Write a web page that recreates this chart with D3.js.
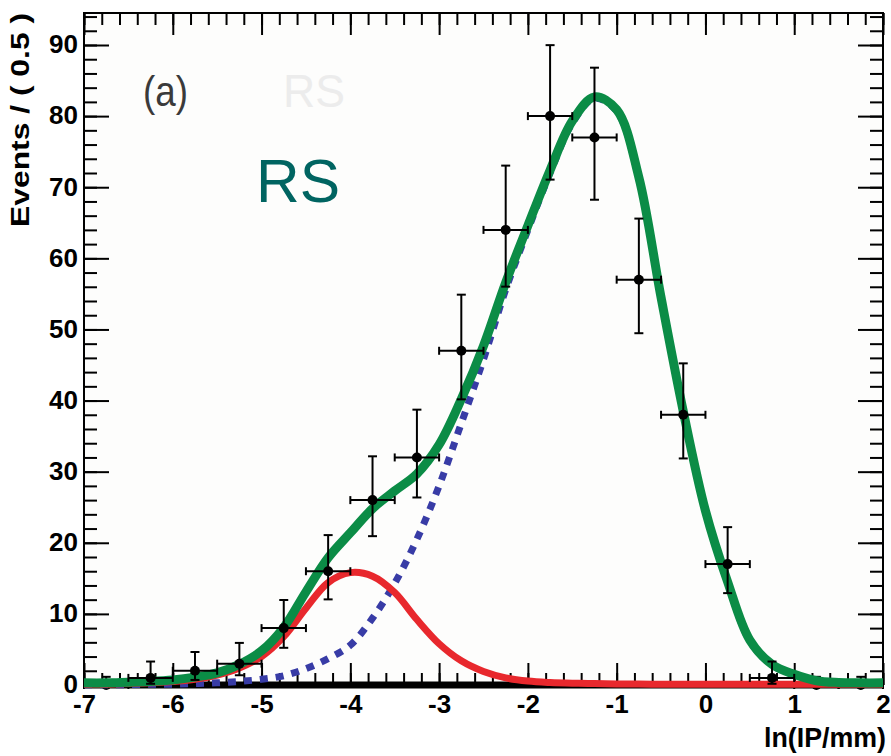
<!DOCTYPE html>
<html>
<head>
<meta charset="utf-8">
<script src="https://cdn.jsdelivr.net/npm/d3@7.9.0/dist/d3.min.js"></script>
<style>
  body { margin: 0; background: #fff; }
  svg { display: block; font-family: 'Liberation Sans', Arial, sans-serif; }
  .tick text { font-weight: bold; fill: #000; }
</style>
</head>
<body>
<svg id="chart" width="891" height="756"></svg>
<script>
// data points: bin centres, counts and asymmetric errors
const binCenters = [-6.75, -6.25, -5.75, -5.25, -4.75, -4.25, -3.75, -3.25, -2.75, -2.25, -1.75, -1.25, -0.75, -0.25, 0.25, 0.75, 1.25, 1.75];
const counts = [0, 1, 2, 3, 8, 16, 26, 32, 47, 64, 80, 77, 57, 38, 17, 1, 0, 0];
const errLow = [0, 0.83, 1.29, 1.63, 2.77, 3.96, 5.07, 5.63, 6.83, 7.98, 8.93, 8.76, 7.53, 6.14, 4.08, 0.83, 0, 0];
const errHigh = [1.15, 2.3, 2.64, 2.92, 3.95, 5.08, 6.16, 6.72, 7.89, 9.04, 9.98, 9.81, 8.59, 7.23, 5.2, 2.3, 1.15, 1.15];
const binHalfWidth = 0.25;

// fit curves sampled along x
const curveX = [-7, -6.75, -6.5, -6.25, -6, -5.75, -5.5, -5.25, -5, -4.75, -4.5, -4.25, -4, -3.75, -3.5, -3.25, -3, -2.75, -2.5, -2.25, -2, -1.75, -1.5, -1.25, -1, -0.75, -0.5, -0.25, 0, 0.25, 0.5, 0.75, 1, 1.25, 1.5, 1.75, 2];
const signal = [0.1, 0.1, 0.2, 0.3, 0.5, 0.8, 1.4, 2.4, 4.0, 6.8, 10.8, 14.4, 15.8, 15.3, 13.0, 9.2, 5.8, 3.4, 1.9, 1.0, 0.55, 0.35, 0.25, 0.2, 0.15, 0.15, 0.1, 0.1, 0.1, 0.1, 0.1, 0.1, 0.1, 0.1, 0.1, 0.1, 0.1];
const background = [0.05, 0.05, 0.05, 0.1, 0.1, 0.2, 0.3, 0.5, 0.8, 1.3, 2.3, 3.7, 5.6, 9.4, 14.3, 20.5, 28.0, 36.8, 45.8, 55.6, 64.0, 72.0, 79.0, 82.5, 80.7, 71.2, 54.4, 38.4, 24.4, 14.4, 6.2, 2.8, 1.4, 0.5, 0.25, 0.2, 0.2];
const total = [0.3, 0.3, 0.4, 0.5, 0.7, 1.1, 1.7, 2.9, 4.8, 8.1, 13.1, 17.9, 21.4, 24.8, 27.3, 29.7, 33.8, 40.2, 47.7, 56.6, 64.6, 72.4, 79.3, 82.7, 80.9, 71.4, 54.5, 38.5, 24.5, 14.5, 6.3, 2.9, 1.5, 0.6, 0.35, 0.3, 0.3];
const zeroComponentX = [-7, 2];
const zeroComponent = [0, 0];

const xMajorTicks = [-7, -6, -5, -4, -3, -2, -1, 0, 1, 2];
const yMajorTicks = [0, 10, 20, 30, 40, 50, 60, 70, 80, 90];

const svg = d3.select('#chart');
const plotLeft = 84, plotRight = 883, plotTop = 13, plotBottom = 685;

const x = d3.scaleLinear().domain([-7, 2]).range([plotLeft, plotRight]);
const y = d3.scaleLinear().domain([0, 94.5]).range([plotBottom, plotTop]);

const xMinor = d3.range(-7, 2.001, 0.2).map((d) => +d.toFixed(1));
const yMinor = d3.range(0, 94.5, 2);

// frame
svg.append('rect')
  .attr('x', plotLeft).attr('y', plotTop)
  .attr('width', plotRight - plotLeft).attr('height', plotBottom - plotTop)
  .attr('fill', '#fdfdfc')
  .attr('stroke', '#000')
  .attr('stroke-width', 2);

function styleAxis(g) {
  g.select('.domain').remove();
  g.selectAll('.tick line').attr('stroke', '#000').attr('stroke-width', 2);
}

// bottom axis
svg.append('g')
  .attr('transform', `translate(0,${plotBottom})`)
  .call(d3.axisBottom(x).tickValues(xMinor).tickSize(-12).tickFormat(''))
  .call(styleAxis);
svg.append('g')
  .attr('transform', `translate(0,${plotBottom})`)
  .call(d3.axisBottom(x).tickValues(xMajorTicks).tickSize(-22).tickPadding(10).tickFormat((d) => String(d)))
  .call(styleAxis)
  .selectAll('text').attr('font-size', 26);

// top axis (mirror)
svg.append('g')
  .attr('transform', `translate(0,${plotTop})`)
  .call(d3.axisTop(x).tickValues(xMinor).tickSize(-12).tickFormat(''))
  .call(styleAxis);
svg.append('g')
  .attr('transform', `translate(0,${plotTop})`)
  .call(d3.axisTop(x).tickValues(xMajorTicks).tickSize(-22).tickFormat(''))
  .call(styleAxis);

// left axis
svg.append('g')
  .attr('transform', `translate(${plotLeft},0)`)
  .call(d3.axisLeft(y).tickValues(yMinor).tickSize(-13).tickFormat(''))
  .call(styleAxis);
svg.append('g')
  .attr('transform', `translate(${plotLeft},0)`)
  .call(d3.axisLeft(y).tickValues(yMajorTicks).tickSize(-25).tickPadding(6).tickFormat((d) => String(d)))
  .call(styleAxis)
  .selectAll('text').attr('font-size', 26).attr('dy', '0.3em');

// right axis (mirror)
svg.append('g')
  .attr('transform', `translate(${plotRight},0)`)
  .call(d3.axisRight(y).tickValues(yMinor).tickSize(-13).tickFormat(''))
  .call(styleAxis);
svg.append('g')
  .attr('transform', `translate(${plotRight},0)`)
  .call(d3.axisRight(y).tickValues(yMajorTicks).tickSize(-25).tickFormat(''))
  .call(styleAxis);

// data points with error bars
const points = binCenters.map((c, i) => ({
  x: c, y: counts[i], lo: counts[i] - errLow[i], hi: counts[i] + errHigh[i]
}));

function drawPoint(parent, p) {
  const g = parent.append('g');
  g.append('line')
    .attr('x1', x(p.x)).attr('x2', x(p.x))
    .attr('y1', y(p.lo)).attr('y2', y(p.hi));
  g.append('line')
    .attr('x1', x(p.x) - 4.5).attr('x2', x(p.x) + 4.5)
    .attr('y1', y(p.hi)).attr('y2', y(p.hi));
  if (p.lo > 0) {
    g.append('line')
      .attr('x1', x(p.x) - 4.5).attr('x2', x(p.x) + 4.5)
      .attr('y1', y(p.lo)).attr('y2', y(p.lo));
  }
  g.append('line')
    .attr('x1', x(p.x - binHalfWidth)).attr('x2', x(p.x + binHalfWidth))
    .attr('y1', y(p.y)).attr('y2', y(p.y));
  [p.x - binHalfWidth, p.x + binHalfWidth].forEach((e) => {
    g.append('line')
      .attr('x1', x(e)).attr('x2', x(e))
      .attr('y1', y(p.y) - 4).attr('y2', y(p.y) + 4);
  });
  g.append('circle')
    .attr('cx', x(p.x)).attr('cy', y(p.y))
    .attr('r', 5)
    .attr('fill', '#000')
    .attr('stroke', 'none');
}

// empty bins sit under the curves, the rest on top
const emptyPts = svg.append('g').attr('stroke', '#000').attr('stroke-width', 2);
points.filter((p) => p.y === 0).forEach((p) => drawPoint(emptyPts, p));

// curves
const line = d3.line()
  .x((d) => x(d[0]))
  .y((d) => y(d[1]))
  .curve(d3.curveCatmullRom.alpha(0.5));

svg.append('path')
  .attr('d', line(zeroComponentX.map((v, i) => [v, zeroComponent[i]])))
  .attr('fill', 'none')
  .attr('stroke', '#000')
  .attr('stroke-width', 7);

svg.append('path')
  .attr('d', line(curveX.map((v, i) => [v, background[i]])))
  .attr('fill', 'none')
  .attr('stroke', '#383ca6')
  .attr('stroke-width', 7)
  .attr('stroke-dasharray', '8,8');

svg.append('path')
  .attr('d', line(curveX.map((v, i) => [v, signal[i]])))
  .attr('fill', 'none')
  .attr('stroke', '#e8282d')
  .attr('stroke-width', 7);

svg.append('path')
  .attr('d', line(curveX.map((v, i) => [v, total[i]])))
  .attr('fill', 'none')
  .attr('stroke', '#0b8c46')
  .attr('stroke-width', 9);

const pts = svg.append('g').attr('stroke', '#000').attr('stroke-width', 2);
points.filter((p) => p.y > 0).forEach((p) => drawPoint(pts, p));

// axis titles
svg.append('text')
  .attr('transform', 'translate(29,120) rotate(-90)')
  .attr('text-anchor', 'middle')
  .attr('font-size', 26)
  .attr('font-weight', 'bold')
  .attr('textLength', 214)
  .attr('lengthAdjust', 'spacingAndGlyphs')
  .text('Events / ( 0.5 )');

svg.append('text')
  .attr('x', 886).attr('y', 747)
  .attr('text-anchor', 'end')
  .attr('font-size', 28)
  .attr('font-weight', 'bold')
  .attr('textLength', 122)
  .attr('lengthAdjust', 'spacingAndGlyphs')
  .text('ln(IP/mm)');

// annotations
svg.append('text')
  .attr('x', 143).attr('y', 106)
  .attr('font-size', 42)
  .attr('fill', '#3a3a3a')
  .attr('textLength', 45)
  .attr('lengthAdjust', 'spacingAndGlyphs')
  .text('(a)');

svg.append('text')
  .attr('x', 283).attr('y', 107)
  .attr('font-size', 46)
  .attr('fill', '#ececec')
  .attr('textLength', 62)
  .attr('lengthAdjust', 'spacingAndGlyphs')
  .text('RS');

svg.append('text')
  .attr('x', 256).attr('y', 202)
  .attr('font-size', 62)
  .attr('fill', '#006461')
  .attr('textLength', 84)
  .attr('lengthAdjust', 'spacingAndGlyphs')
  .text('RS');
</script>
</body>
</html>
